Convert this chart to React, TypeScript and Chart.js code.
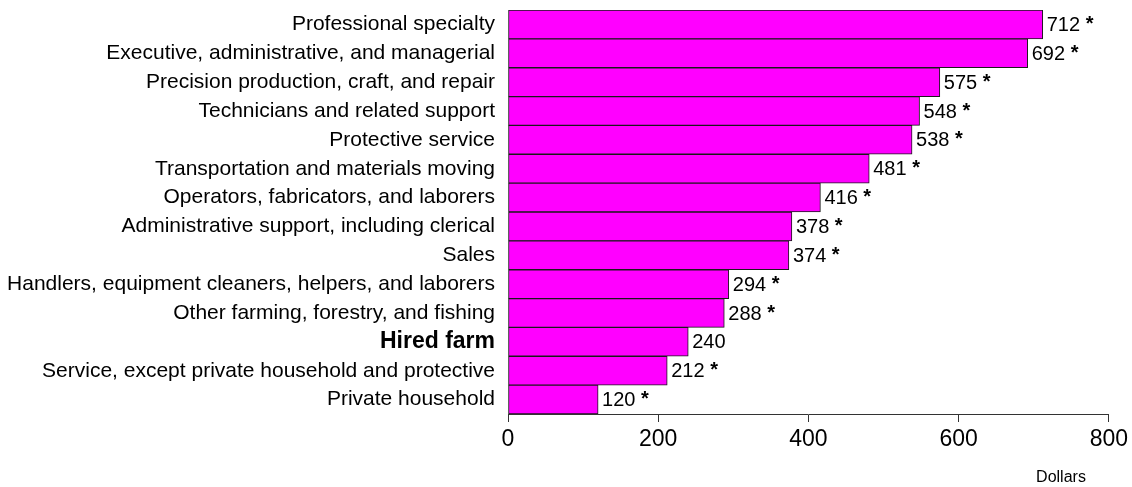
import React, { useEffect, useRef } from "react";
import { Chart, registerables } from "chart.js";

Chart.register(...registerables);

const categories = [
  "Professional specialty",
  "Executive, administrative, and managerial",
  "Precision production, craft, and repair",
  "Technicians and related support",
  "Protective service",
  "Transportation and materials moving",
  "Operators, fabricators, and laborers",
  "Administrative support, including clerical",
  "Sales",
  "Handlers, equipment cleaners, helpers, and laborers",
  "Other farming, forestry, and fishing",
  "Hired farm",
  "Service, except private household and protective",
  "Private household",
];
const values = [712, 692, 575, 548, 538, 481, 416, 378, 374, 294, 288, 240, 212, 120];
const significant = [true, true, true, true, true, true, true, true, true, true, true, false, true, true];
const boldCategory = "Hired farm";
const xTicks = [0, 200, 400, 600, 800];
const xTitle = "Dollars";

const FONT = "'Liberation Sans', Arial, sans-serif";

const labelPlugin = {
  id: "valueLabels",
  afterDatasetsDraw(chart: any) {
    const ctx = chart.ctx;
    const meta = chart.getDatasetMeta(0);
    ctx.save();
    ctx.fillStyle = "#000";
    ctx.textBaseline = "middle";
    ctx.textAlign = "left";
    meta.data.forEach((bar: any, i: number) => {
      const x = bar.x + 4;
      const y = bar.y + 1;
      ctx.font = `20px ${FONT}`;
      const t = String(values[i]);
      ctx.fillText(t, x, y);
      if (significant[i]) {
        const w = ctx.measureText(t + " ").width;
        ctx.font = `bold 20px ${FONT}`;
        ctx.fillText("*", x + w, y - 1);
      }
    });
    ctx.font = `16px ${FONT}`;
    ctx.textAlign = "center";
    ctx.fillText(xTitle, 1061, 478);
    ctx.restore();
  },
};

export default function App() {
  const ref = useRef<HTMLCanvasElement>(null);
  useEffect(() => {
    document.body.style.margin = "0";
    const chart = new Chart(ref.current!, {
      type: "bar",
      data: {
        labels: categories,
        datasets: [
          {
            data: values,
            backgroundColor: "#FF00FF",
            borderColor: "#1a1a1a",
            borderWidth: 1,
            borderSkipped: false,
            barPercentage: 1,
            categoryPercentage: 1,
          },
        ],
      },
      options: {
        indexAxis: "y",
        animation: false,
        responsive: false,
        maintainAspectRatio: false,
        layout: { padding: { top: 10, right: 23, left: 0, bottom: 0 } },
        plugins: { legend: { display: false }, tooltip: { enabled: false } },
        scales: {
          x: {
            min: 0,
            max: 800,
            afterBuildTicks: (s: any) => {
              s.ticks = xTicks.map((v) => ({ value: v }));
            },
            afterFit: (s: any) => {
              s.height = 73;
            },
            grid: {
              display: true,
              drawOnChartArea: false,
              drawTicks: true,
              tickLength: 8,
              color: "#333",
            },
            border: { display: true, color: "#333", width: 1 },
            ticks: {
              color: "#000",
              font: { family: FONT, size: 23 },
              padding: 4,
              maxRotation: 0,
            },
          },
          y: {
            afterFit: (s: any) => {
              s.width = 508;
              s.paddingTop = 0;
              s.paddingBottom = 0;
            },
            grid: { display: false, drawTicks: false },
            border: { display: false },
            ticks: {
              color: "#000",
              padding: 13,
              autoSkip: false,
              font: (c: any) =>
                categories[c.index] === boldCategory
                  ? { family: FONT, size: 23, weight: "bold" }
                  : { family: FONT, size: 21 },
            },
          },
        },
      },
      plugins: [labelPlugin],
    } as any);
    return () => chart.destroy();
  }, []);
  return (
    <div style={{ width: 1132, height: 487 }}>
      <canvas ref={ref} width={1132} height={487} style={{ display: "block" }} />
    </div>
  );
}
